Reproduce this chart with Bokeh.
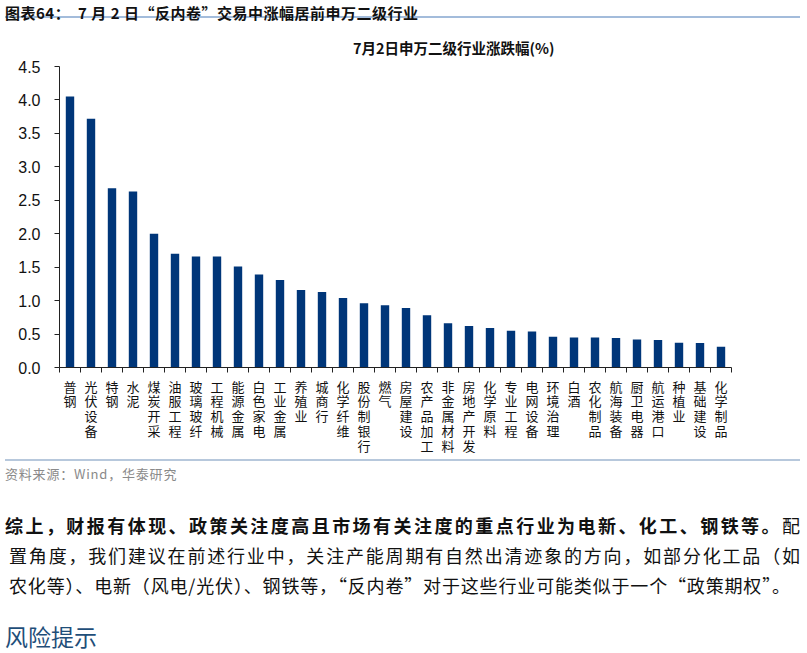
from bokeh.plotting import figure
from bokeh.models import (Range1d, FixedTicker, SingleIntervalTicker, NumeralTickFormatter,
                          Div, ColumnDataSource)
from bokeh.layouts import column
from bokeh.embed import file_html
from bokeh.resources import INLINE

categories = ["普钢", "光伏设备", "特钢", "水泥", "煤炭开采", "油服工程", "玻璃玻纤", "工程机械",
              "能源金属", "白色家电", "工业金属", "养殖业", "城商行", "化学纤维", "股份制银行", "燃气",
              "房屋建设", "农产品加工", "非金属材料", "房地产开发", "化学原料", "专业工程", "电网设备",
              "环境治理", "白酒", "农化制品", "航海装备", "厨卫电器", "航运港口", "种植业", "基础建设",
              "化学制品"]
values = [4.05, 3.72, 2.68, 2.63, 2.00, 1.70, 1.66, 1.66,
          1.51, 1.39, 1.31, 1.16, 1.13, 1.04, 0.96, 0.93,
          0.89, 0.78, 0.66, 0.62, 0.59, 0.55, 0.54,
          0.46, 0.45, 0.45, 0.44, 0.42, 0.41, 0.37, 0.365,
          0.31]

header_text = "图表64：  7 月 2 日“反内卷”交易中涨幅居前申万二级行业"
chart_title = "7月2日申万二级行业涨跌幅(%)"
source_text = "资料来源：Wind，华泰研究"
para_bold = "综上，财报有体现、政策关注度高且市场有关注度的重点行业为电新、化工、钢铁等。"
para_line1_rest = "配"
para_line2 = "置角度，我们建议在前述行业中，关注产能周期有自然出清迹象的方向，如部分化工品（如"
para_line3 = "农化等）、电新（风电/光伏）、钢铁等，“反内卷”对于这些行业可能类似于一个“政策期权”。"
risk_heading = "风险提示"

n = len(categories)
centers = [i + 0.5 for i in range(n)]
bounds = list(range(n + 1))

W = 807
CJK = "'Noto Sans CJK SC', 'Noto Sans', sans-serif"

header = Div(
    text=(f"<div style=\"margin-left:5px;width:795px;height:18px;padding-top:6px;"
          f"border-bottom:2px solid #a3bcdb;"
          f"font-family:{CJK};font-size:15px;font-weight:bold;line-height:14px;color:#111;"
          f"letter-spacing:0.5px;white-space:pre;\">{header_text}</div>"),
    width=W, height=30, margin=(0, 0, 0, 0))

title_div = Div(
    text=(f"<div style=\"padding-left:353px;padding-top:10px;font-family:{CJK};font-size:14.5px;"
          f"font-weight:bold;line-height:16px;color:#111;white-space:nowrap;\">{chart_title}</div>"),
    width=W, height=26, margin=(0, 0, 0, 0))

src = ColumnDataSource(dict(x=centers, top=values, name=categories))

p = figure(width=W, height=402, output_backend="svg", toolbar_location=None,
           x_range=Range1d(0, n), y_range=Range1d(0, 4.5),
           min_border_left=59, min_border_right=76, min_border_top=10, min_border_bottom=91,
           outline_line_color=None, background_fill_color="white", border_fill_color="white")
p.vbar(x="x", top="top", width=0.4, source=src, fill_color="#003679", line_color=None)

p.xgrid.visible = False
p.ygrid.visible = False

xa = p.xaxis[0]
xa.ticker = FixedTicker(ticks=centers, minor_ticks=bounds)
xa.major_label_overrides = {c: "\n".join(name) for c, name in zip(centers, categories)}
xa.major_tick_out = 0
xa.major_tick_in = 0
xa.minor_tick_out = 5
xa.minor_tick_in = 0
xa.minor_tick_line_color = "#222222"
xa.axis_line_color = "#222222"
xa.major_label_standoff = 4
xa.major_label_text_font = "Noto Sans CJK SC"
xa.major_label_text_font_size = "13px"
xa.major_label_text_color = "#111111"
xa.major_label_text_line_height = 0.78

ya = p.yaxis[0]
ya.ticker = SingleIntervalTicker(interval=0.5, num_minor_ticks=0)
ya.formatter = NumeralTickFormatter(format="0.0")
ya.major_tick_out = 5
ya.major_tick_in = 0
ya.minor_tick_out = 0
ya.minor_tick_in = 0
ya.axis_line_color = "#222222"
ya.major_tick_line_color = "#222222"
ya.major_label_text_font = "Liberation Sans"
ya.major_label_text_font_size = "16px"
ya.major_label_text_color = "#111111"
ya.major_label_standoff = 14

source_div = Div(
    text=(f"<div style=\"margin-left:5px;width:795px;height:3px;border-bottom:2px solid #b7c8dc;\"></div>"
          f"<div style=\"margin-left:5px;font-family:{CJK};font-size:13px;color:#8a8a8a;"
          f"letter-spacing:0.8px;line-height:20px;padding-top:3px;\">{source_text}</div>"),
    width=W, height=32, margin=(0, 0, 0, 0))

line_style = (f"font-family:{CJK};font-size:18px;line-height:30px;color:#111;"
              f"white-space:nowrap;text-align:justify;text-align-last:justify;")
para = Div(
    text=(f"<div style=\"padding-top:20px;\">"
          f"<div style=\"{line_style}margin-left:5px;width:795px;\"><b>{para_bold}</b>{para_line1_rest}</div>"
          f"<div style=\"{line_style}margin-left:9px;width:791px;\">{para_line2}</div>"
          f"<div style=\"{line_style}margin-left:9px;width:781px;\">{para_line3}</div>"
          f"</div>"),
    width=W, height=110, margin=(0, 0, 0, 0))

heading = Div(
    text=(f"<div style=\"padding-top:22px;margin-left:5px;font-family:{CJK};font-size:23px;"
          f"line-height:28px;color:#1f4e79;\">{risk_heading}</div>"),
    width=W, height=53, margin=(0, 0, 0, 0))

layout = column(header, title_div, p, source_div, para, heading, spacing=0)

open("out.html", "w").write(file_html(layout, INLINE))
